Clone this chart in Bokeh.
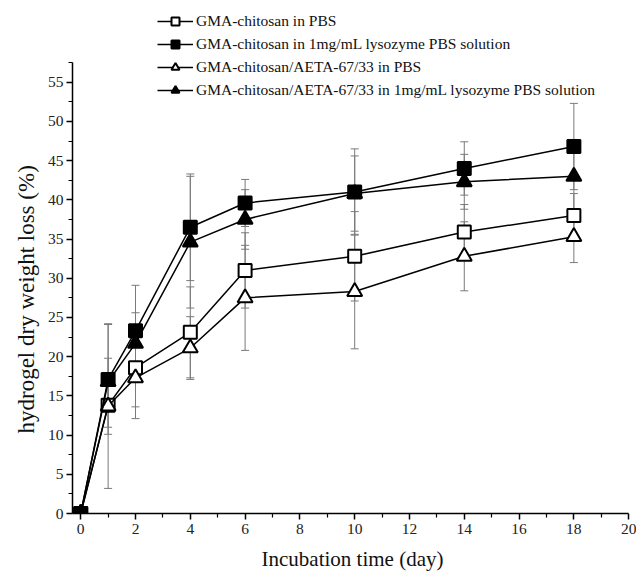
from bokeh.plotting import figure
from bokeh.models import (ColumnDataSource, Whisker, Range1d, FixedTicker, Legend,
                          LegendItem, Title, TeeHead)
from bokeh.embed import file_html
from bokeh.resources import INLINE

# ---- data ----
days = [0, 1, 2, 4, 6, 10, 14, 18]

gma_pbs = [0, 13.8, 18.6, 23.1, 31.0, 32.8, 35.9, 38.0]
gma_pbs_err = [0, 2.8, 5.0, 5.8, 4.8, 5.7, 3.5, 2.8]

gma_lys = [0, 17.1, 23.3, 36.5, 39.6, 41.0, 44.0, 46.8]
gma_lys_err = [0, 7.0, 5.8, 6.8, 3.0, 5.5, 3.4, 5.5]

aeta_pbs = [0, 13.7, 17.3, 21.1, 27.5, 28.3, 32.8, 35.3]
aeta_pbs_err = [0, 10.5, 5.2, 4.0, 6.7, 7.3, 4.4, 3.3]

aeta_lys = [0, 16.8, 21.7, 34.6, 37.5, 40.8, 42.3, 43.0]
aeta_lys_err = [0, 3.0, 3.9, 8.4, 3.8, 4.8, 3.5, 4.7]

labels = [
    "GMA-chitosan in PBS",
    "GMA-chitosan in 1mg/mL lysozyme PBS solution",
    "GMA-chitosan/AETA-67/33 in PBS",
    "GMA-chitosan/AETA-67/33 in 1mg/mL lysozyme PBS solution",
]

x_major = [0, 2, 4, 6, 8, 10, 12, 14, 16, 18, 20]
x_minor = [1, 3, 5, 7, 9, 11, 13, 15, 17, 19]
y_major = [0, 5, 10, 15, 20, 25, 30, 35, 40, 45, 50, 55]
y_minor = [2.5, 7.5, 12.5, 17.5, 22.5, 27.5, 32.5, 37.5, 42.5, 47.5, 52.5, 57.5]

FONT = "Liberation Serif"

p = figure(width=636, height=576, output_backend="svg", toolbar_location=None,
           x_range=Range1d(-0.3, 20.14), y_range=Range1d(0, 64.4),
           min_border_left=72, min_border_right=4, min_border_top=8,
           min_border_bottom=63, background_fill_color="white",
           border_fill_color="white")
p.outline_line_color = None
p.grid.visible = False

# axes
p.xaxis.ticker = FixedTicker(ticks=x_major, minor_ticks=x_minor)
p.yaxis.ticker = FixedTicker(ticks=y_major, minor_ticks=y_minor)
p.xaxis.bounds = (-0.3, 20)
p.yaxis.bounds = (0, 57.5)
for ax in (p.xaxis, p.yaxis):
    ax.axis_line_color = "black"
    ax.axis_line_width = 1.5
    ax.major_tick_line_color = "black"
    ax.major_tick_line_width = 1.5
    ax.minor_tick_line_color = "black"
    ax.minor_tick_line_width = 1.2
    ax.major_tick_out = 6
    ax.major_tick_in = 0
    ax.minor_tick_out = 4
    ax.minor_tick_in = 0
    ax.major_label_text_font = FONT
    ax.major_label_text_font_size = "15.5px"
    ax.major_label_text_color = "#222222"
    ax.major_label_standoff = 4
p.yaxis.major_label_standoff = 3

p.xaxis.axis_label = "Incubation time (day)"
p.xaxis.axis_label_text_font = FONT
p.xaxis.axis_label_text_font_size = "21px"
p.xaxis.axis_label_text_font_style = "normal"
p.xaxis.axis_label_text_color = "#111111"
p.xaxis.axis_label_standoff = 10

ylab = Title(text="hydrogel dry weight loss (%)", align="left", offset=80,
             standoff=12,
             text_font=FONT, text_font_size="23px", text_font_style="normal",
             text_color="#111111")
p.add_layout(ylab, "left")

# error bars, lines, markers
series = [
    (gma_pbs, gma_pbs_err, "square", "white", 13),
    (gma_lys, gma_lys_err, "square", "black", 13),
    (aeta_pbs, aeta_pbs_err, "triangle", "white", 15),
    (aeta_lys, aeta_lys_err, "triangle", "black", 15),
]
ERR = "#7a7a7a"
items = []
for (vals, errs, mk, fill, size), lab in zip(series, labels):
    src = ColumnDataSource(dict(
        x=days, y=vals,
        lo=[v - e for v, e in zip(vals, errs)],
        hi=[v + e for v, e in zip(vals, errs)],
    ))
    w = Whisker(source=src, base="x", lower="lo", upper="hi", dimension="height",
                line_color=ERR, line_width=1, level="underlay",
                upper_head=TeeHead(size=8, line_color=ERR, line_width=1),
                lower_head=TeeHead(size=8, line_color=ERR, line_width=1))
    p.add_layout(w)
    lr = p.line("x", "y", source=src, line_color="black", line_width=1.5)
    mr = p.scatter("x", "y", source=src, marker=mk, size=size, fill_color=fill,
                   line_color="black", line_width=2)
    items.append(LegendItem(label=lab, renderers=[lr, mr]))

legend = Legend(items=items, location=(85, 413), orientation="vertical",
                background_fill_alpha=0, border_line_color=None,
                padding=0, margin=0, spacing=3, glyph_width=36, glyph_height=20,
                label_height=20, label_standoff=3,
                label_text_font=FONT, label_text_font_size="15.5px",
                label_text_color="#111111")
p.add_layout(legend, "center")

open("out.html", "w").write(file_html(p, INLINE))
